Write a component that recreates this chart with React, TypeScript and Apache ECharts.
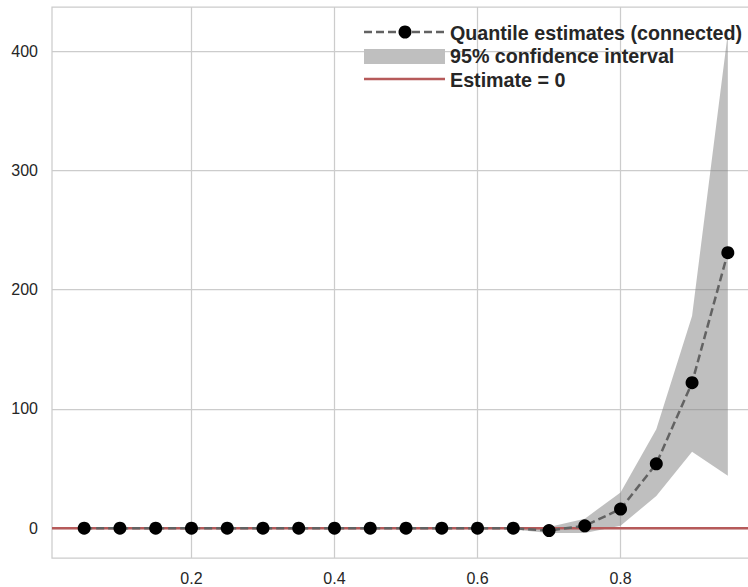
import React, { useEffect, useRef } from "react";
import * as echarts from "echarts";

const quantiles = [0.05, 0.1, 0.15, 0.2, 0.25, 0.3, 0.35, 0.4, 0.45, 0.5, 0.55, 0.6, 0.65, 0.7, 0.75, 0.8, 0.85, 0.9, 0.95];
const estimates = [0, 0, 0, 0, 0, 0, 0, 0, 0, 0, 0, 0, 0, -2, 2, 16, 54, 122, 231];
const ciLower = [0, 0, 0, 0, 0, 0, 0, 0, 0, 0, 0, -0.3, -1, -4, -4, 2, 27, 64, 44];
const ciUpper = [0, 0, 0, 0, 0, 0, 0, 0, 0, 0, 0, 0.3, 1, 1, 8, 30, 83, 178, 415];
const xTicks = [0.2, 0.4, 0.6, 0.8];
const yTicks = [0, 100, 200, 300, 400];
const X_MIN = 0.005;
const X_MAX = 0.995;
const Y_MIN = -25;
const Y_MAX = 437;

const FONT = "'Liberation Sans', Arial, sans-serif";

export default function App() {
  const ref = useRef<HTMLDivElement>(null);
  useEffect(() => {
    document.body.style.margin = "0";
    const chart = echarts.init(ref.current!, null, { renderer: "svg" });
    const bandData = quantiles.map((q, i) => [q, ciLower[i], ciUpper[i]]);
    const estData = quantiles.map((q, i) => [q, estimates[i]]);
    const legendLabels = ["Quantile estimates (connected)", "95% confidence interval", "Estimate = 0"];
    chart.setOption({
      animation: false,
      grid: {
        left: 52,
        top: 7,
        right: 4,
        bottom: 29,
        show: true,
        borderColor: "#cccccc",
        borderWidth: 1.25,
        backgroundColor: "#ffffff",
      },
      xAxis: {
        type: "value",
        min: X_MIN,
        max: X_MAX,
        axisLine: { show: false },
        axisTick: { show: false, customValues: xTicks },
        axisLabel: {
          customValues: xTicks,
          color: "#262626",
          fontSize: 16,
          fontFamily: FONT,
          margin: 12,
          formatter: (v: number) => v.toFixed(1),
        },
        splitLine: { show: true, lineStyle: { color: "#cccccc", width: 1.25 } },
      },
      yAxis: {
        type: "value",
        min: Y_MIN,
        max: Y_MAX,
        axisLine: { show: false },
        axisTick: { show: false, customValues: yTicks },
        axisLabel: {
          customValues: yTicks,
          color: "#262626",
          fontSize: 16,
          fontFamily: FONT,
          margin: 14,
        },
        splitLine: { show: true, lineStyle: { color: "#cccccc", width: 1.25 } },
      },
      series: [
        {
          name: legendLabels[1],
          type: "custom",
          data: bandData,
          clip: true,
          z: 1,
          renderItem: (params: any, api: any) => {
            if (params.dataIndex !== 0) return null;
            const upper = bandData.map((d) => api.coord([d[0], d[2]]));
            const lower = bandData.map((d) => api.coord([d[0], d[1]])).reverse();
            return {
              type: "polygon",
              shape: { points: upper.concat(lower) },
              style: { fill: "rgba(128,128,128,0.5)", stroke: "none" },
            };
          },
        },
        {
          name: legendLabels[2],
          type: "line",
          data: [[X_MIN, 0], [X_MAX, 0]],
          symbol: "none",
          lineStyle: { color: "#b65a5a", width: 2.5 },
          z: 2,
        },
        {
          name: legendLabels[0],
          type: "line",
          data: estData,
          symbol: "circle",
          symbolSize: 13,
          itemStyle: { color: "#000000" },
          lineStyle: { color: "#626262", width: 2.5, type: [8, 4] },
          z: 3,
        },
      ],
      graphic: [
        {
          type: "line",
          shape: { x1: 364, y1: 32, x2: 445, y2: 32 },
          style: { stroke: "#626262", lineWidth: 2.5, lineDash: [8, 4] },
          z: 10,
        },
        { type: "circle", shape: { cx: 405, cy: 32, r: 6.5 }, style: { fill: "#000000" }, z: 11 },
        { type: "rect", shape: { x: 364, y: 49, width: 81, height: 15 }, style: { fill: "#bfbfbf" }, z: 10 },
        {
          type: "line",
          shape: { x1: 364, y1: 79, x2: 445, y2: 79 },
          style: { stroke: "#b65a5a", lineWidth: 2.5 },
          z: 10,
        },
        ...legendLabels.map((t, i) => ({
          type: "text",
          x: 450,
          y: [33, 56, 80][i],
          z: 10,
          style: {
            text: t,
            fill: "#262626",
            font: `bold 19.7px ${FONT}`,
            textVerticalAlign: "middle",
          },
        })),
      ],
    });
    return () => chart.dispose();
  }, []);
  return (
    <div style={{ width: 748, height: 587, overflow: "hidden" }}>
      <div ref={ref} style={{ width: 764, height: 587 }} />
    </div>
  );
}
